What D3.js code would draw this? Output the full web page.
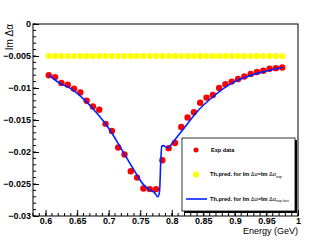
<!DOCTYPE html>
<html lang="en">
<head><meta charset="utf-8">
<title>Im delta alpha vs energy</title>
<style>
body { margin: 0; background: #fff; }
svg { display: block; font-family: "Liberation Sans", Arial, sans-serif; }
.tick text { font-size: 9px; font-weight: bold; }
.leg { font-size: 5.6px; font-weight: bold; }
</style>
</head>
<body>
<svg></svg>
<script src="https://d3js.org/d3.v7.min.js"></script>
<script>

// energies of the points (GeV)
var energy = [0.605, 0.615, 0.625, 0.635, 0.645, 0.655, 0.665, 0.675, 0.685, 0.695,
              0.705, 0.715, 0.725, 0.735, 0.745, 0.755, 0.765, 0.775, 0.785, 0.795,
              0.805, 0.815, 0.825, 0.835, 0.845, 0.855, 0.865, 0.875, 0.885, 0.895,
              0.905, 0.915, 0.925, 0.935, 0.945, 0.955, 0.965, 0.975];

var expData = [-0.0080, -0.0083, -0.0092, -0.0095, -0.0101, -0.0107, -0.0120, -0.0129, -0.0134, -0.0156,
               -0.0167, -0.0193, -0.0204, -0.0230, -0.0240, -0.0257, -0.0258, -0.0258, -0.0213, -0.0194,
               -0.0186, -0.0161, -0.0146, -0.0138, -0.0123, -0.0115, -0.0111, -0.0100, -0.0094, -0.0090,
               -0.0086, -0.0082, -0.0078, -0.0075, -0.0073, -0.0070, -0.0069, -0.0068];

var predExp = [-0.005, -0.005, -0.005, -0.005, -0.005, -0.005, -0.005, -0.005, -0.005, -0.005,
               -0.005, -0.005, -0.005, -0.005, -0.005, -0.005, -0.005, -0.005, -0.005, -0.005,
               -0.005, -0.005, -0.005, -0.005, -0.005, -0.005, -0.005, -0.005, -0.005, -0.005,
               -0.005, -0.005, -0.005, -0.005, -0.005, -0.005, -0.005, -0.005];

// theory curve (exp fast)
var curveE = [0.605, 0.62, 0.64, 0.66, 0.68, 0.70, 0.72, 0.74, 0.755, 0.765, 0.772, 0.778,
              0.7805, 0.7825, 0.784, 0.787, 0.790, 0.795, 0.80, 0.82, 0.84, 0.86, 0.88,
              0.90, 0.92, 0.94, 0.96, 0.975];
var curveV = [-0.0080, -0.0091, -0.0101, -0.0117, -0.0138, -0.0163, -0.0195, -0.0228, -0.0251, -0.0259, -0.0263, -0.0270,
              -0.0262, -0.0215, -0.0191, -0.0190, -0.0192, -0.0193, -0.0187, -0.0162, -0.0137, -0.0118, -0.0102,
              -0.0090, -0.0082, -0.0076, -0.0071, -0.0068];

var xTicks = [0.6, 0.65, 0.7, 0.75, 0.8, 0.85, 0.9, 0.95, 1];
var yTicks = [0, -0.005, -0.01, -0.015, -0.02, -0.025, -0.03];

var width = 332, height = 240;
var padL = 33, padR = 298, padT = 24, padB = 216;

var svg = d3.select("svg").attr("width", width).attr("height", height);

var x = d3.scaleLinear().domain([0.58, 1.0]).range([padL, padR]);
var y = d3.scaleLinear().domain([-0.03, 0]).range([padB, padT]);

function fmt(d) { return d === 0 ? "0" : d3.format("")(d).replace("-", "\u2212"); }

// minor ticks
var xMinor = d3.range(58, 101).map(function(d) { return d / 100; });
var yMinor = d3.range(0, 31).map(function(d) { return -d / 1000; });

svg.append("g").selectAll("line").data(xMinor).enter().append("line")
    .attr("x1", function(d) { return x(d); }).attr("x2", function(d) { return x(d); })
    .attr("y1", padB).attr("y2", padB - 3)
    .attr("stroke", "#000").attr("stroke-width", 1);

svg.append("g").selectAll("line").data(yMinor).enter().append("line")
    .attr("x1", padL).attr("x2", padL + 3)
    .attr("y1", function(d) { return y(d); }).attr("y2", function(d) { return y(d); })
    .attr("stroke", "#000").attr("stroke-width", 1);

// axes with inward major ticks
var xAxis = svg.append("g").attr("transform", "translate(0," + padB + ")")
    .call(d3.axisBottom(x).tickValues(xTicks).tickSizeInner(-6).tickSizeOuter(0).tickPadding(2).tickFormat(fmt));
var yAxis = svg.append("g").attr("transform", "translate(" + padL + ",0)")
    .call(d3.axisLeft(y).tickValues(yTicks).tickSizeInner(-6).tickSizeOuter(0).tickPadding(8).tickFormat(fmt));
[xAxis, yAxis].forEach(function(a) {
  a.select(".domain").remove();
  a.selectAll(".tick line").attr("stroke", "#000");
  a.selectAll(".tick text").attr("fill", "#000");
});
yAxis.selectAll(".tick text").attr("x", -2);

// frame
svg.append("rect").attr("x", padL).attr("y", padT)
    .attr("width", padR - padL).attr("height", padB - padT)
    .attr("fill", "none").attr("stroke", "#000").attr("stroke-width", 1);

// yellow prediction
svg.append("g").selectAll("circle").data(energy).enter().append("circle")
    .attr("cx", function(d) { return x(d); })
    .attr("cy", function(d, i) { return y(predExp[i]); })
    .attr("r", 3.1).attr("fill", "#ffff00");

// red data
svg.append("g").selectAll("circle").data(energy).enter().append("circle")
    .attr("cx", function(d) { return x(d); })
    .attr("cy", function(d, i) { return y(expData[i]); })
    .attr("r", 3.2).attr("fill", "#ff0000");

// blue curve
var line = d3.line()
    .x(function(d) { return x(d); })
    .y(function(d, i) { return y(curveV[i]); })
    .curve(d3.curveMonotoneX);
svg.append("path").datum(curveE).attr("d", line)
    .attr("fill", "none").attr("stroke", "#0022ff").attr("stroke-width", 1.6);

// axis titles
svg.append("text").attr("x", padR).attr("y", 234)
    .attr("text-anchor", "end").attr("font-size", 9).text("Energy (GeV)");
svg.append("text").attr("transform", "translate(13," + padT + ") rotate(-90)")
    .attr("text-anchor", "end").attr("font-size", 10).text("Im \u0394\u03b1");

// legend
var lg = svg.append("g");
lg.append("rect").attr("x", 184).attr("y", 140).attr("width", 113).attr("height", 73).attr("fill", "#000");
lg.append("rect").attr("x", 182).attr("y", 138).attr("width", 113).attr("height", 73)
    .attr("fill", "#fff").attr("stroke", "#000").attr("stroke-width", 0.8);

lg.append("circle").attr("cx", 196).attr("cy", 150).attr("r", 2.5).attr("fill", "#ff0000");
lg.append("text").attr("class", "leg").attr("x", 211).attr("y", 152).text("Exp data");

lg.append("circle").attr("cx", 196).attr("cy", 174.5).attr("r", 3).attr("fill", "#ffff00");
var t2 = lg.append("text").attr("class", "leg").attr("x", 210).attr("y", 176);
t2.append("tspan").text("Th.pred. for Im ");
t2.append("tspan").attr("font-weight", "normal").text("\u0394\u03b1");
t2.append("tspan").text("=Im ");
t2.append("tspan").attr("font-weight", "normal").text("\u0394\u03b1");
t2.append("tspan").attr("font-size", 3.6).attr("dy", 1.5).attr("font-weight", "normal").text("exp");

lg.append("line").attr("x1", 186).attr("x2", 207).attr("y1", 199).attr("y2", 199)
    .attr("stroke", "#0022ff").attr("stroke-width", 1.6);
var t3 = lg.append("text").attr("class", "leg").attr("x", 210).attr("y", 200.5);
t3.append("tspan").text("Th.pred. for Im ");
t3.append("tspan").attr("font-weight", "normal").text("\u0394\u03b1");
t3.append("tspan").text("=Im ");
t3.append("tspan").attr("font-weight", "normal").text("\u0394\u03b1");
t3.append("tspan").attr("font-size", 3.6).attr("dy", 1.5).attr("font-weight", "normal").text("exp fast");

</script>
</body>
</html>
